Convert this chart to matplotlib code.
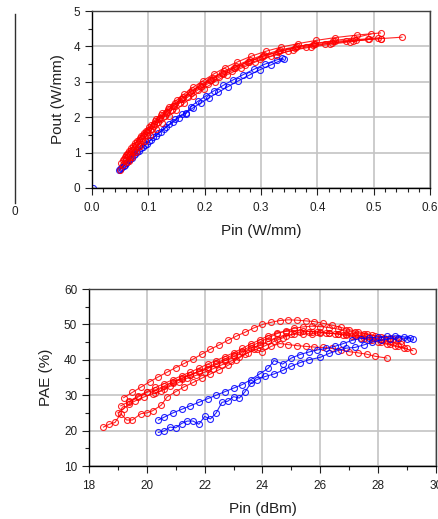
import matplotlib
matplotlib.use("Agg")
import matplotlib.pyplot as plt
from matplotlib.ticker import MultipleLocator

plt.rcParams["font.family"] = ["Liberation Sans", "DejaVu Sans"]

# --- Pout vs Pin (W/mm) ---
top_red_pin = [
    [0.055, 0.060, 0.066, 0.072, 0.079, 0.087, 0.095, 0.104, 0.114, 0.125, 0.137, 0.150, 0.164,
     0.180, 0.197, 0.216, 0.236, 0.258, 0.282, 0.308, 0.336, 0.366, 0.398, 0.432, 0.470, 0.512],
    [0.052, 0.057, 0.063, 0.069, 0.076, 0.083, 0.091, 0.100, 0.110, 0.121, 0.133, 0.146, 0.160,
     0.176, 0.193, 0.212, 0.232, 0.254, 0.278, 0.304, 0.332, 0.362, 0.394, 0.428, 0.465, 0.495],
    [0.050, 0.055, 0.061, 0.067, 0.074, 0.081, 0.089, 0.098, 0.108, 0.119, 0.131, 0.144, 0.158,
     0.174, 0.191, 0.210, 0.230, 0.252, 0.276, 0.302, 0.330, 0.360, 0.392, 0.426, 0.464, 0.512, 0.550],
    [0.058, 0.064, 0.070, 0.077, 0.085, 0.093, 0.102, 0.112, 0.123, 0.135, 0.148, 0.162, 0.178,
     0.195, 0.214, 0.234, 0.256, 0.280, 0.306, 0.334, 0.364, 0.396, 0.431, 0.468, 0.508],
    [0.062, 0.068, 0.074, 0.081, 0.089, 0.098, 0.107, 0.118, 0.129, 0.142, 0.156, 0.171, 0.188,
     0.206, 0.226, 0.248, 0.272, 0.298, 0.326, 0.356, 0.388, 0.422, 0.458, 0.492],
    [0.065, 0.071, 0.078, 0.086, 0.094, 0.103, 0.113, 0.124, 0.136, 0.149, 0.164, 0.180, 0.198,
     0.218, 0.240, 0.264, 0.290, 0.318, 0.348, 0.380, 0.414, 0.450, 0.490, 0.512],
]
top_red_pout = [
    [0.80, 0.92, 1.05, 1.18, 1.32, 1.48, 1.62, 1.78, 1.95, 2.12, 2.30, 2.48, 2.66,
     2.85, 3.03, 3.22, 3.40, 3.56, 3.72, 3.86, 3.98, 4.08, 4.17, 4.25, 4.32, 4.38],
    [0.70, 0.82, 0.95, 1.08, 1.22, 1.36, 1.50, 1.65, 1.82, 1.98, 2.15, 2.32, 2.50,
     2.68, 2.86, 3.05, 3.22, 3.40, 3.57, 3.73, 3.86, 3.98, 4.08, 4.16, 4.24, 4.35],
    [0.50, 0.64, 0.78, 0.93, 1.08, 1.24, 1.40, 1.57, 1.75, 1.94, 2.13, 2.32, 2.51,
     2.70, 2.88, 3.06, 3.24, 3.40, 3.56, 3.71, 3.84, 3.95, 4.04, 4.10, 4.16, 4.22, 4.26],
    [0.88, 1.00, 1.12, 1.26, 1.42, 1.56, 1.72, 1.88, 2.05, 2.22, 2.40, 2.58, 2.76,
     2.94, 3.12, 3.30, 3.46, 3.62, 3.77, 3.90, 4.00, 4.08, 4.14, 4.19, 4.24],
    [0.74, 0.88, 1.02, 1.17, 1.34, 1.51, 1.68, 1.86, 2.03, 2.21, 2.40, 2.58, 2.77,
     2.95, 3.13, 3.31, 3.48, 3.63, 3.77, 3.89, 3.98, 4.06, 4.13, 4.20],
    [0.75, 0.88, 1.02, 1.18, 1.34, 1.50, 1.66, 1.84, 2.02, 2.20, 2.40, 2.60, 2.80,
     3.00, 3.20, 3.38, 3.56, 3.72, 3.86, 3.98, 4.07, 4.14, 4.20, 4.22],
]
top_blue_pin = [
    [0.048, 0.052, 0.056, 0.061, 0.066, 0.071, 0.077, 0.083, 0.090, 0.097, 0.105, 0.113, 0.122, 0.132,
     0.143, 0.154, 0.166, 0.179, 0.193, 0.208, 0.224, 0.241, 0.259, 0.278, 0.298, 0.318, 0.340],
    [0.050, 0.054, 0.058, 0.063, 0.068, 0.074, 0.080, 0.087, 0.094, 0.101, 0.109, 0.118, 0.127, 0.137,
     0.148, 0.160, 0.167, 0.175, 0.188, 0.202, 0.217, 0.233, 0.250, 0.268, 0.287, 0.307, 0.328, 0.338],
    [0.002],
]
top_blue_pout = [
    [0.50, 0.56, 0.62, 0.70, 0.78, 0.86, 0.96, 1.05, 1.15, 1.25, 1.36, 1.47, 1.59, 1.72,
     1.85, 1.98, 2.12, 2.26, 2.40, 2.55, 2.70, 2.86, 3.02, 3.18, 3.34, 3.48, 3.64],
    [0.55, 0.60, 0.66, 0.74, 0.82, 0.92, 1.02, 1.12, 1.22, 1.32, 1.43, 1.55, 1.67, 1.80,
     1.94, 2.08, 2.10, 2.30, 2.45, 2.60, 2.75, 2.90, 3.05, 3.20, 3.35, 3.50, 3.62, 3.66],
    [0.0],
]

# --- PAE vs Pin (dBm) ---
pae_red_pin = [
    [19.2, 19.5, 19.8, 20.1, 20.4, 20.7, 21.0, 21.3, 21.6, 21.9, 22.2, 22.5, 22.8, 23.1, 23.4, 23.7, 24.0,
     24.3, 24.6, 24.9, 25.2, 25.5, 25.8, 26.1, 26.4, 26.7, 27.0, 27.3, 27.6, 27.9, 28.2, 28.5, 28.8],
    [19.1, 19.4, 19.7, 20.0, 20.3, 20.6, 20.9, 21.2, 21.5, 21.8, 22.1, 22.4, 22.7, 23.0, 23.3, 23.6, 23.9,
     24.2, 24.5, 24.8, 25.1, 25.4, 25.7, 26.0, 26.3, 26.6, 26.9, 27.2, 27.5, 27.8, 28.1, 28.4, 28.7, 29.0],
    [19.0, 19.2, 19.4, 19.6, 19.9, 20.2, 20.5, 20.8, 21.1, 21.4, 21.7, 22.0, 22.3, 22.6, 22.9, 23.2, 23.5, 23.8,
     24.1, 24.4, 24.7, 25.0, 25.3, 25.6, 25.9, 26.2, 26.5, 26.8, 27.1, 27.4, 27.7, 28.0, 28.3, 28.6, 28.9, 29.2],
    [18.5, 18.7, 18.9, 19.1, 19.3, 19.5, 19.8, 20.0, 20.2, 20.5, 20.7, 21.0, 21.3, 21.6, 21.9, 22.2, 22.5, 22.8,
     23.1, 23.4, 23.7, 24.0, 24.3, 24.6, 24.9, 25.2, 25.5, 25.8, 26.1, 26.4, 26.7, 27.0, 27.3, 27.6, 27.9, 28.3],
    [19.4, 19.7, 20.0, 20.3, 20.6, 20.9, 21.2, 21.5, 21.8, 22.1, 22.4, 22.7, 23.0, 23.3, 23.6, 23.9,
     24.2, 24.5, 24.8, 25.1, 25.4, 25.7, 26.0, 26.3, 26.6, 26.9, 27.2, 27.5, 27.8, 28.1, 28.4, 28.8],
    [20.3, 20.6, 20.9, 21.2, 21.5, 21.8, 22.1, 22.4, 22.7, 23.0, 23.3, 23.6, 23.9, 24.2, 24.5,
     24.8, 25.1, 25.4, 25.7, 26.0, 26.3, 26.6, 26.9, 27.2, 27.5, 27.8, 28.1, 28.4, 28.7],
]
pae_red = [
    [29.3, 30.8, 32.3, 33.8, 35.2, 36.5, 37.8, 39.0, 40.2, 41.6, 43.0, 44.2, 45.5, 46.7, 47.8, 49.0, 50.0,
     50.6, 51.1, 51.3, 51.2, 51.0, 50.8, 50.3, 49.8, 49.2, 48.5, 48.0, 47.4, 46.8, 46.3, 45.8, 45.3],
    [27.0, 28.3, 29.8, 31.0, 32.2, 33.3, 34.4, 35.5, 36.5, 37.6, 38.8, 39.8, 40.9, 42.0, 43.2, 44.5, 45.6,
     46.8, 47.6, 48.0, 48.3, 48.2, 48.0, 47.8, 47.5, 47.3, 47.0, 46.6, 46.2, 45.6, 45.0, 44.5, 43.8, 43.2],
    [25.0, 26.2, 27.6, 28.4, 29.5, 30.4, 31.2, 32.5, 33.6, 34.8, 35.6, 36.5, 37.5, 38.6, 39.6, 40.8, 42.0, 43.0,
     44.0, 45.2, 46.2, 47.2, 47.8, 48.0, 47.9, 47.6, 47.4, 47.0, 46.6, 46.2, 45.6, 45.0, 44.4, 43.8, 43.2, 42.6],
    [21.0, 21.8, 22.3, 24.8, 23.0, 23.0, 24.8, 25.0, 25.6, 27.2, 29.5, 31.0, 32.4, 33.6, 34.8, 36.0, 37.2, 38.4,
     40.0, 41.6, 43.0, 42.3, 43.8, 44.6, 44.3, 44.0, 43.8, 43.6, 43.5, 43.2, 42.8, 42.3, 42.0, 41.6, 41.0, 40.5],
    [28.0, 29.5, 30.8, 31.5, 32.6, 33.8, 34.8, 35.8, 36.6, 37.5, 38.7, 39.8, 41.0, 42.2, 43.3, 44.2,
     45.2, 46.0, 46.8, 47.2, 47.3, 47.4, 47.6, 47.5, 47.4, 47.2, 46.9, 46.6, 46.2, 45.8, 45.2, 44.5],
    [30.5, 31.8, 33.4, 34.6, 35.7, 36.8, 37.9, 39.0, 40.2, 41.5, 42.6, 43.8, 45.0, 46.2, 47.4,
     48.2, 48.9, 49.3, 49.5, 49.4, 49.1, 48.7, 48.3, 47.8, 47.3, 46.9, 46.5, 46.2, 45.9],
]
pae_blue_pin = [
    [20.4, 20.6, 20.9, 21.2, 21.5, 21.8, 22.1, 22.4, 22.7, 23.0, 23.3, 23.6, 23.9, 24.2, 24.4, 24.7,
     25.0, 25.3, 25.6, 25.9, 26.2, 26.5, 26.8, 27.1, 27.4, 27.7, 28.0, 28.3, 28.6, 28.9, 29.1],
    [20.4, 20.6, 20.8, 21.0, 21.2, 21.4, 21.6, 21.8, 22.0, 22.2, 22.4, 22.6, 22.8, 23.0, 23.2, 23.4, 23.6, 23.8,
     24.1, 24.4, 24.7, 25.0, 25.3, 25.6, 26.0, 26.3, 26.6, 26.9, 27.2, 27.5, 27.8, 28.1, 28.4, 28.7, 29.0, 29.2],
]
pae_blue = [
    [23.0, 23.8, 25.0, 26.0, 27.0, 28.0, 29.0, 30.0, 31.0, 32.0, 33.0, 34.4, 36.0, 37.6, 39.8, 38.8,
     40.5, 41.5, 42.2, 42.8, 43.2, 43.8, 44.6, 45.5, 46.0, 46.2, 46.4, 46.6, 46.8, 46.5, 46.2],
    [19.5, 19.9, 21.0, 20.8, 22.0, 22.7, 22.7, 21.8, 24.0, 23.3, 25.0, 28.0, 28.3, 29.6, 29.2, 31.0, 33.4, 34.4,
     35.3, 36.0, 37.0, 38.2, 39.2, 40.0, 40.7, 41.8, 42.6, 43.3, 43.5, 44.2, 45.0, 45.5, 46.0, 46.3, 46.0, 45.8],
]

RED = "#ff0000"
BLUE = "#0000ff"


def style_axes(ax):
    ax.grid(True, which="major", color="#c4c4c4", linewidth=1.2)
    ax.set_axisbelow(True)
    ax.tick_params(which="both", direction="out", labelsize=8.5, colors="#202020", width=0.8)
    ax.tick_params(which="major", length=5)
    ax.tick_params(which="minor", length=3)
    ax.tick_params(axis="x", pad=5)
    for side in ("left", "bottom"):
        ax.spines[side].set_color("black")
        ax.spines[side].set_linewidth(1.0)
    for side in ("top", "right"):
        ax.spines[side].set_color("#404040")
        ax.spines[side].set_linewidth(1.0)


def draw(ax, xs, ys, color):
    for x, y in zip(xs, ys):
        ax.plot(x, y, "-o", color=color, lw=0.8, ms=4.3, mfc="none", mew=0.8, alpha=0.85)


fig = plt.figure(figsize=(4.38, 5.19), dpi=100)

ax1 = fig.add_axes([0.210, 0.6378, 0.772, 0.341])
draw(ax1, top_blue_pin, top_blue_pout, BLUE)
draw(ax1, top_red_pin, top_red_pout, RED)
ax1.set_xlim(0, 0.6)
ax1.set_ylim(0, 5)
ax1.xaxis.set_major_locator(MultipleLocator(0.1))
ax1.xaxis.set_minor_locator(MultipleLocator(0.02))
ax1.yaxis.set_major_locator(MultipleLocator(1))
ax1.yaxis.set_minor_locator(MultipleLocator(0.5))
ax1.set_xticklabels([f"{v:.1f}" for v in ax1.get_xticks()])
style_axes(ax1)
ax1.set_xlabel("Pin (W/mm)", fontsize=11, color="#202020", labelpad=7)
ax1.set_ylabel("Pout (W/mm)", fontsize=11, color="#202020", labelpad=6)

ax2 = fig.add_axes([0.2032, 0.1021, 0.792, 0.341])
draw(ax2, pae_red_pin, pae_red, RED)
draw(ax2, pae_blue_pin, pae_blue, BLUE)
ax2.set_xlim(18, 30)
ax2.set_ylim(10, 60)
ax2.xaxis.set_major_locator(MultipleLocator(2))
ax2.xaxis.set_minor_locator(MultipleLocator(1))
ax2.yaxis.set_major_locator(MultipleLocator(10))
ax2.yaxis.set_minor_locator(MultipleLocator(5))
style_axes(ax2)
ax2.set_xlabel("Pin (dBm)", fontsize=11, color="#202020", labelpad=7)
ax2.set_ylabel("PAE (%)", fontsize=11, color="#202020", labelpad=8)

# stray scale bar on the left edge
fig.add_artist(plt.Line2D([15 / 438, 15 / 438], [1 - 14 / 519, 1 - 203 / 519],
                          color="#303030", lw=1.0))
fig.text(15 / 438, 1 - 212 / 519, "0", fontsize=8.5, color="#202020", ha="center", va="center")

fig.savefig("out.png", dpi=100)
